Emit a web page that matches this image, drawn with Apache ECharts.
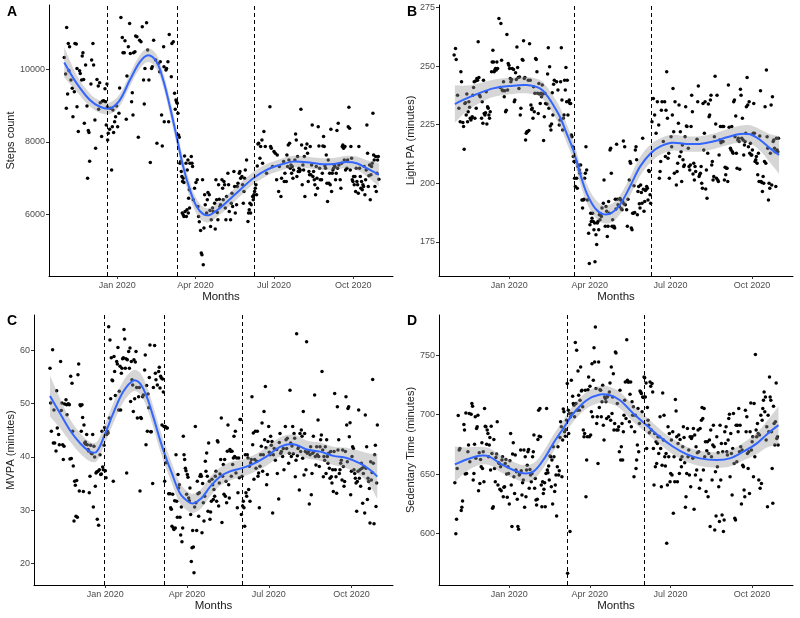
<!DOCTYPE html>
<html><head><meta charset="utf-8">
<script src="https://cdn.jsdelivr.net/npm/echarts@6/dist/echarts.min.js"></script>
<style>html,body{margin:0;padding:0;background:#fff}#c{width:800px;height:618px}</style>
</head><body><div id="c"></div>
<script>
// x values are days relative to 2020-01-01
const monthTicks=[0,91,182,274];
const monthLabels=['Jan 2020','Apr 2020','Jul 2020','Oct 2020'];
const xMin=-79.2, xMax=320.2;

const stepsTicks=[6000,8000,10000];
const lightTicks=[175,200,225,250,275];
const mvpaTicks=[20,30,40,50,60];
const sedTicks=[600,650,700,750];

const stepsBreaks=[-12,70,159];
const lightBreaks=[73,160];
const mvpaBreaks=[-1,66,152];
const sedBreaks=[66,152];

// [day, fitted value, half-width of confidence band]
const stepsFit=[[-61.5,10193,420],[-47,9614,230],[-31.7,9153,180],[-20,8968,165],[-8.5,8924,160],[3,9153,165],[14.7,9705,170],[26.4,10210,185],[36,10394,190],[45.7,10210,195],[53.4,9705,200],[61.2,8968,215],[69,8140,225],[76.6,7313,225],[84.4,6670,215],[92.2,6210,205],[99.9,6000,200],[107.6,5980,195],[119,6166,185],[130.8,6414,180],[142.5,6670,180],[158,6993,170],[173.5,7222,165],[189,7360,160],[204,7451,160],[220,7435,160],[235,7388,160],[250.8,7388,160],[266,7443,170],[278,7407,185],[289.6,7269,220],[303.8,7085,320]];
const lightFit=[[-61.3,233.8,8],[-48,236.2,5.5],[-33,238.6,4.2],[-18,240.5,3.7],[0.8,241.5,3.5],[19.6,241.9,3.5],[34.7,240.5,3.6],[42.2,237.6,3.7],[49.7,233.4,3.8],[57.2,228.4,4],[64.8,221.3,4],[72.3,214.2,4],[79.8,204.3,4],[87.4,195.8,4],[96.8,189.4,3.9],[106,186.8,3.8],[115.6,187.3,3.9],[125,190.8,4],[136.3,198.6,4],[147.6,207.1,4],[159.7,212.8,3.8],[170,215.6,3.5],[183.4,217.3,3.4],[200,216.8,3.3],[215,216.8,3.3],[230,217.8,3.3],[245.5,219.6,3.4],[260.5,221,3.6],[271.8,220.9,3.9],[283,218.5,4.6],[294,215,6],[304.5,212.1,8]];
const mvpaFit=[[-61.4,51.4,3.8],[-50.3,48.2,2.8],[-39.2,45,2.1],[-28,42.6,1.9],[-17,41,1.8],[-9.5,41,1.8],[0,44.4,1.8],[9,48.2,1.9],[20,52.2,2],[31.3,54.3,2],[38.7,53.8,2],[46.2,51.3,2],[53.5,47.5,2],[61,43.2,2],[66.5,40.4,2],[74,37,1.9],[83.2,33.2,1.9],[92.5,31.6,1.8],[98,31.3,1.8],[107.3,32.3,1.8],[116.6,34.4,1.8],[127.7,36.3,1.7],[138.8,37.3,1.7],[152.2,37.9,1.6],[164.8,38.7,1.6],[179.7,40.1,1.7],[194.5,41.9,1.8],[209.3,42.4,1.8],[224.2,41.4,1.7],[239,41,1.7],[253.8,40.2,1.7],[268.7,39.8,1.9],[283.5,38.8,2.3],[294.6,37.6,3],[302.7,36.3,4.2]];
const sedFit=[[-61.3,658.1,15],[-48,662.3,10],[-33,665.4,7.5],[-21.8,664.5,7],[-10.5,659,7],[4.5,653.4,7],[15.8,650.6,7],[27.1,652,7],[38.4,661.8,7],[49.7,675.8,7],[61,688.4,7],[72.3,701,7],[87.4,712.2,7],[102.4,717,7],[113.7,716.4,7],[125,712.2,7],[140,701,7],[155,691.2,6.8],[170,681.3,6.5],[185,673,6.5],[200,666.8,6.5],[215.3,663.2,6.5],[234,661.8,6.5],[249,663.2,6.8],[264,668.8,7.5],[279.4,675.8,9],[290.6,683.4,11],[303.8,691.2,16]];

const stepsPts=[[-61.5,10331],[-59.9,9871],[-58.7,11159],[-59.1,8924],[-57.6,9320],[-56.8,10717],[-56.0,9963],[-55.3,10625],[-53.7,9706],[-52.2,9476],[-51.4,8694],[-49.8,9384],[-49.1,10717],[-47.5,10699],[-46.7,10028],[-46.7,8970],[-45.2,8281],[-43.7,9963],[-42.9,9890],[-41.3,9706],[-40.6,10368],[-39.8,10460],[-39.0,9724],[-38.2,8510],[-36.7,10120],[-35.1,8989],[-34.4,6993],[-33.6,8308],[-32.8,8253],[-32.0,7462],[-30.5,9595],[-29.7,10257],[-28.2,10717],[-27.4,10120],[-25.9,8602],[-25.1,7821],[-23.5,9724],[-22.0,9540],[-21.6,8897],[-20.4,9632],[-19.7,9080],[-18.1,8143],[-17.3,9117],[-15.8,9136],[-14.2,9467],[-13.5,9108],[-12.7,8464],[-11.9,9595],[-11.5,8970],[-11.1,8051],[-10.4,8235],[-8.8,8345],[-8.0,8924],[-6.5,7223],[-5.7,8418],[-5.0,8878],[-4.2,8253],[-3.0,8556],[-1.9,8694],[-0.7,8989],[0.5,8418],[2.0,8786],[2.8,9485],[4.3,11434],[5.9,10883],[6.7,10460],[8.2,10460],[9.0,10791],[10.5,8621],[11.3,9816],[12.9,10625],[14.4,11269],[15.2,10441],[16.7,9108],[17.5,9356],[18.3,8740],[19.0,10460],[20.6,10487],[21.4,10920],[22.9,10901],[24.5,8124],[26.0,10809],[27.6,10763],[29.1,11177],[30.6,9706],[31.4,9044],[32.2,10028],[34.1,11287],[35.3,10533],[36.8,9706],[38.4,7425],[39.9,10028],[40.7,10074],[42.3,10809],[44.6,10257],[46.1,7959],[47.7,10166],[49.2,9936],[50.0,10211],[51.5,8740],[52.3,7885],[53.9,10625],[54.3,10074],[54.6,8556],
[56.6,9982],[57.3,10028],[58.9,10211],[60.4,10965],[59.7,8556],[62.8,9798],[63.5,10717],[65.1,10763],[66.6,9338],[67.4,8897],[68.2,9154],[68.9,9108],[69.7,9062],[70.5,8786],[71.3,8189],[72.0,8124],[72.8,7407],[73.6,7453],[74.4,7177],[75.1,7039],[75.9,6901],[76.7,6993],[77.5,6874],[78.2,7609],[79.8,7407],[81.3,7223],[82.1,7499],[82.9,6441],[83.7,6671],[84.4,7407],[86.0,7591],[86.8,7407],[87.5,7315],[88.3,6396],[89.8,6717],[91.4,6874],[92.9,6947],[93.7,6212],[94.5,5936],[95.3,5789],[96.8,5550],[97.6,4924],[98.4,4878],[99.9,4602],[99.1,6947],[100.7,5614],[101.5,6533],[102.2,6258],[103.8,6028],[104.6,6396],[105.3,6598],[106.9,6533],[107.7,6101],[108.4,5660],[109.2,5844],[110.7,6166],[111.5,6074],[113.1,6304],[113.8,5586],[114.6,6947],[115.4,6396],[116.2,6046],[116.9,5844],[117.7,6809],[118.5,6414],[119.3,6212],[120.0,6258],[121.6,6947],[122.4,6717],[123.1,6396],[123.9,6901],[124.7,6809],[125.5,6166],[126.2,5844],[127.0,6488],[128.5,7131],[129.3,6809],[130.1,6074],[131.6,5844],[132.4,6304],[133.2,6579],[134.0,6212],[135.5,7177],[136.3,6763],[137.1,6028],[138.6,6258],[139.4,6763],[140.2,6855],[141.7,7131],[142.5,7177],[143.3,6993],[144.8,7039],[145.6,6809],[146.4,6304],[147.1,6625],[147.9,6993],[148.7,7223],[150.2,7499],[151.8,5798],[152.5,6028],[153.3,6120],[154.1,6304],[154.9,6028],[155.6,6258],[157.2,6488],[158.0,6396],[158.7,6533],[159.5,6625],[160.3,6717],[161.1,6809],[161.8,6533],[162.6,7333],[163.4,7940],[164.2,7959],[165.7,7545],[166.5,7867],[168.0,8051],[168.8,7407],[170.3,8281],[171.9,7867],[173.4,7131],[177.3,8970],[178.1,7867],[178.9,7821],[180.4,7315],[182.0,7729],[183.5,7683],[185.1,6947],[185.8,7637],[187.4,6625],[188.2,7315],
[75.5,6028],[76.6,5982],[77.5,5936],[78.8,6074],[80.3,5936],[81.0,6120],[82.5,6028],[84.0,6166],
[190.1,6488],[190.8,6993],[193.2,7453],[193.9,6901],[194.7,7131],[196.3,6901],[197.0,7637],[197.8,7315],[198.6,7913],[199.4,7499],[200.1,7959],[200.9,7269],[201.7,7361],[202.5,7131],[203.2,7315],[204.0,6993],[204.8,7223],[206.3,7499],[207.1,8216],[207.9,8051],[208.6,7039],[209.4,7591],[210.2,7177],[211.0,7269],[211.7,7177],[212.5,7223],[213.3,8897],[214.1,7913],[214.8,6809],[215.6,7361],[216.4,7223],[217.2,7591],[217.9,6488],[218.7,7821],[220.3,7940],[221.0,7683],[221.8,6901],[222.6,7177],[223.3,7085],[224.1,7867],[224.9,7085],[225.7,7361],[226.4,8464],[227.2,7039],[228.0,7177],[228.8,6947],[229.5,6809],[230.3,6533],[231.1,7315],[231.9,6993],[232.6,6717],[233.4,8418],[234.2,7885],[235.0,7269],[235.7,6947],[237.3,6947],[238.1,7131],[238.8,7885],[239.6,8143],[240.4,7867],[241.2,7333],[241.9,7269],[242.7,7637],[243.5,6855],[244.2,6350],[245.0,7499],[245.8,6855],[246.6,7131],[247.3,6809],[248.1,8345],[248.9,6625],[249.7,7131],[250.4,7223],[251.2,7269],[252.0,7361],[252.8,7315],[253.5,6947],[254.3,7131],[255.1,8308],[255.9,7269],[256.6,8510],[257.4,7361],[258.9,6947],[259.7,6717],[260.5,7407],[261.3,7867],[262.0,7913],[262.8,7821],[263.6,7499],[264.4,7867],[265.1,7223],[266.7,7269],[267.5,7499],[268.2,8418],[269.0,8952],[269.8,8372],[270.6,7223],[271.3,7867],[272.1,7545],[272.9,6947],[273.7,6901],[274.4,7039],[275.2,6809],[276.0,7039],[276.8,6625],[277.5,7269],[278.3,6901],[279.1,6809],[279.9,6579],[280.6,7867],[281.4,7269],[282.2,7039],[282.9,6717],[283.7,6901],[284.5,6671],[285.3,6809],[286.0,6763],[286.8,7315],[287.6,6533],[288.4,6947],[289.1,7223],[289.9,8464],[290.7,7683],[291.5,6763],[292.2,7058],[293.0,7361],[293.8,6396],[294.6,7085],[295.3,7315],[296.1,7407],[296.9,8786],[297.7,7637],[298.4,7499],[299.2,6763],[300.0,7591],[300.8,6625],[301.5,7131],[302.3,7499],[303.1,7591],[303.8,6966]];

const lightPts=[[-62.1,254.7],[-60.6,257.5],[-59.8,252.8],[-58.3,237.6],[-56.8,232.0],[-55.3,226.3],[-54.5,247.6],[-53.8,243.3],[-52.3,225.9],[-51.5,224.2],[-50.8,214.5],[-50.0,234.1],[-49.3,234.4],[-48.5,229.1],[-47.8,238.1],[-47.0,226.3],[-46.3,230.5],[-45.5,234.8],[-44.7,232.4],[-44.0,227.7],[-43.2,227.0],[-42.5,227.7],[-41.7,228.4],[-41.0,237.6],[-40.2,240.9],[-39.5,243.3],[-38.7,227.7],[-38.0,243.7],[-37.2,232.0],[-36.5,244.7],[-35.7,244.0],[-35.0,260.4],[-34.2,245.2],[-33.5,237.6],[-32.7,236.9],[-31.2,227.7],[-30.5,234.8],[-29.7,225.6],[-29.0,244.0],[-28.2,229.8],[-27.4,229.1],[-26.7,230.1],[-25.9,239.1],[-25.2,225.3],[-24.4,232.7],[-23.7,232.0],[-22.9,229.1],[-22.2,227.7],[-21.4,230.5],[-19.9,247.6],[-19.2,251.8],[-18.4,256.8],[-17.7,251.8],[-16.9,247.6],[-16.2,248.3],[-15.4,249.0],[-14.6,248.3],[-13.9,251.8],[-13.1,249.0],[-11.6,270.3],[-10.1,240.9],[-9.4,268.2],[-8.6,252.5],[-7.9,239.8],[-7.1,239.5],[-6.4,243.3],[-5.6,236.9],[-4.9,239.5],[-4.1,230.5],[-3.3,231.2],[-2.6,263.5],[-1.8,239.8],[-1.1,251.1],[-0.3,250.4],[0.4,249.0],[1.2,244.7],[1.9,243.3],[2.7,244.3],[3.4,249.0],[4.9,248.6],[5.7,234.8],[6.4,235.5],[7.2,247.2],[8.0,244.3],[8.7,258.2],[9.5,249.4],[10.2,245.2],[11.0,240.5],[11.7,245.4],[12.5,229.1],[13.2,232.0],[14.7,252.8],[15.5,252.5],[16.2,260.8],[17.0,244.7],[17.7,245.2],[18.5,218.5],[19.2,221.3],[20.0,222.0],[20.7,222.0],[21.5,244.0],[22.2,222.5],[23.0,259.6],[23.7,244.0],[24.5,233.4],[25.3,231.5],[26.0,232.0],[26.8,227.7],[27.5,241.2],[28.3,230.5],[29.0,238.4],[29.8,253.3],[30.5,252.8],[31.3,247.6],[32.0,238.4],[32.8,229.8],[33.5,242.6],[34.3,238.1],[35.0,234.1],[35.8,238.4],[36.5,236.9],[37.3,241.9],[38.1,238.1],[38.8,218.2],[39.6,228.4],[40.3,238.4],[41.1,234.1],[42.6,233.8],[43.3,246.6],[44.1,257.9],[44.8,232.0],[45.6,249.7],[46.3,224.4],[47.1,222.7],[47.8,225.3],[48.6,238.6],[49.3,229.1],[50.1,242.3],[50.9,244.0],
[53.5,243.3],[55.0,239.8],[56.5,224.9],[57.3,227.0],[58.0,243.3],[58.8,257.9],[59.5,235.5],[60.3,222.7],[61.0,227.7],[61.8,229.1],[62.5,244.0],[63.3,239.8],[64.0,249.4],[64.8,234.8],[65.5,244.0],[66.3,229.1],[67.0,234.8],[67.8,235.5],[68.5,234.1],[69.3,234.1],[70.1,220.6],[70.8,219.9],[71.6,215.6],[72.3,211.4],[73.1,209.3],[73.8,202.1],[74.6,198.6],[75.3,209.3],[76.1,202.1],[76.8,197.9],[77.6,207.1],[78.3,207.8],[79.1,205.7],[79.8,204.3],[80.6,207.8],[82.1,192.9],[82.8,189.4],[83.6,192.9],[84.4,193.2],[85.1,202.1],[85.9,204.3],[86.6,215.6],[87.4,205.7],[88.1,192.9],[89.6,178.7],[90.4,165.7],[91.1,182.3],[91.9,187.2],[92.6,183.7],[93.4,185.1],[94.1,187.2],[94.9,183.7],[95.6,180.1],[96.4,183.0],[96.8,166.5],[97.9,178.0],[98.7,173.8],[99.4,183.0],[100.2,183.7],[101.0,180.1],[101.7,186.5],[102.4,184.4],[103.2,186.5],[104.0,185.8],[104.7,189.4],[106.2,191.5],[107.0,201.4],[108.4,181.6],[109.2,190.1],[110.0,188.0],[110.7,177.3],[111.5,181.6],[112.2,192.2],[113.0,187.2],[113.7,214.2],[114.5,214.9],[115.2,204.3],[116.0,181.6],[116.7,184.4],[117.5,181.3],[118.2,181.6],[119.0,180.9],[119.7,193.2],[120.5,189.0],[121.2,216.6],[122.0,193.2],[122.8,190.8],[123.5,190.1],[124.3,190.1],[125.0,193.5],[125.8,192.9],[126.5,189.1],[127.3,188.7],[128.0,192.2],[128.8,218.0],[129.5,191.2],[130.3,215.6],[131.0,190.8],[132.5,188.7],[133.3,181.6],[134.0,193.2],[135.5,201.4],[136.3,209.3],[137.0,208.5],[137.8,180.9],[138.6,180.1],[139.3,187.2],[140.1,187.2],[140.8,198.9],[141.6,187.5],[142.3,214.2],[143.1,215.6],[143.8,210.0],[144.6,186.5],[145.3,196.5],[146.1,198.6],[146.8,191.2],[147.6,189.4],[148.3,199.3],[149.1,196.0],[149.8,191.5],[150.6,219.2],[151.4,197.4],[152.1,188.0],[152.9,192.2],[153.6,196.9],[154.4,197.2],[155.1,198.6],[155.9,197.9],[156.6,192.9],[157.4,205.4],[158.1,205.0],[158.9,195.1],[159.6,191.5],[161.1,226.3],[162.6,236.2],[164.1,229.1],[165.7,221.3],[167.2,234.8],[168.7,224.9],[169.4,202.1],[170.2,205.0],[170.9,209.3],[171.7,231.2],[172.4,234.8],[173.9,217.8],[175.4,234.8],[176.2,211.4],[176.9,231.2],[177.7,247.6],[178.5,227.7],[179.2,210.7],[180.0,212.8],[180.7,202.1],
[182.6,219.9],[183.3,215.6],[184.1,229.1],[184.8,240.5],[185.6,222.0],[186.3,204.3],[187.1,234.8],[188.6,199.3],[189.4,205.0],[190.1,208.5],[190.9,225.6],[191.6,233.4],[192.4,211.4],[193.1,222.0],[193.9,213.5],[194.6,200.7],[195.4,216.3],[196.1,210.0],[196.9,207.1],[197.6,207.8],[198.4,219.9],[199.1,232.7],[199.9,224.4],[200.6,224.2],[202.1,214.9],[202.9,207.1],[203.7,205.7],[204.4,207.8],[205.2,224.2],[205.9,237.6],[206.7,230.5],[207.4,204.0],[208.2,208.5],[208.9,201.4],[209.7,207.1],[210.4,205.0],[211.9,218.8],[212.7,234.8],[213.4,241.5],[214.2,202.9],[214.9,203.6],[215.7,204.3],[216.5,207.1],[217.2,200.0],[218.0,197.9],[218.7,234.1],[219.5,214.2],[220.2,221.3],[221.0,234.8],[221.7,197.5],[222.5,205.7],[223.2,193.6],[224.0,212.8],[224.7,233.8],[225.5,228.4],[226.2,229.1],[227.0,235.5],[227.7,237.6],[228.5,207.8],[229.2,209.3],[230.0,201.4],[230.8,202.9],[231.5,219.9],[232.3,245.7],[233.0,225.3],[233.8,202.1],[234.5,237.6],[235.3,201.4],[236.0,200.7],[236.8,212.1],[237.5,218.5],[238.3,224.2],[239.0,217.3],[239.8,217.8],[240.5,224.2],[241.3,217.8],[242.0,224.2],[242.8,201.4],[243.6,206.8],[244.3,203.6],[245.1,206.4],[245.8,206.4],[246.6,200.7],[247.3,241.9],[248.1,223.9],[249.6,214.9],[250.3,214.2],[251.1,224.2],[251.8,213.5],[252.6,212.8],[253.3,234.8],[254.1,235.5],[254.8,219.9],[255.6,228.7],[256.3,212.8],[257.1,206.4],[257.9,218.5],[258.6,219.2],[259.4,217.8],[260.1,206.0],[260.9,240.1],[261.6,237.6],[262.4,219.2],[263.1,227.7],[263.9,218.5],[264.6,212.1],[265.4,216.3],[266.1,217.8],[266.9,221.3],[267.6,232.7],[268.4,245.2],[269.1,233.4],[269.9,215.6],[270.7,234.8],[271.4,212.8],[272.2,217.1],[272.9,212.1],[273.7,212.1],[274.4,214.2],[275.2,221.3],[275.9,234.1],[276.7,221.3],[277.4,209.3],[278.2,210.0],[278.9,211.4],[279.7,208.5],[280.4,203.6],[281.2,212.8],[281.9,200.7],[282.7,220.2],[283.5,239.5],[284.2,200.7],[285.0,200.3],[285.7,196.5],[286.5,202.9],[287.2,200.0],[288.0,209.3],[288.7,232.7],[289.5,208.5],[290.2,248.3],[291.0,219.9],[291.7,214.9],[292.5,192.9],[293.2,200.0],[294.0,197.9],[294.7,212.8],[295.5,233.4],[296.2,199.3],[297.0,236.9],[297.8,217.8],[298.5,218.5],[299.3,214.9],[300.0,213.5],[300.8,198.6],[301.5,219.2],[302.3,214.2],[303.0,213.5],[303.8,219.2]];

const mvpaPts=[[-61.4,56.6],[-60.7,50.1],[-59.9,44.8],[-58.5,60.1],[-57.7,42.6],[-57.0,48.8],[-56.2,42.6],[-54.7,41.1],[-54.0,52.4],[-53.3,45.4],[-51.8,44.2],[-51.0,42.3],[-49.6,57.9],[-48.8,48.7],[-48.1,50.1],[-47.3,42.3],[-46.6,39.5],[-45.8,42.0],[-45.1,49.9],[-43.6,50.7],[-42.9,49.8],[-42.5,47.9],[-41.4,49.9],[-40.6,49.9],[-39.9,49.8],[-39.2,39.6],[-38.4,55.1],[-37.7,39.7],[-36.9,53.8],[-36.2,44.8],[-35.5,38.3],[-34.7,28.0],[-34.0,35.45],[-33.2,34.7],[-32.5,28.9],[-31.7,35.6],[-31.0,28.7],[-30.3,55.4],[-29.5,57.4],[-28.8,33.6],[-28.0,49.8],[-27.3,49.6],[-26.6,44.8],[-25.8,49.8],[-25.1,47.4],[-24.3,33.5],[-23.6,46.0],[-22.8,42.6],[-22.1,42.8],[-21.4,42.4],[-20.6,44.2],[-19.9,42.3],[-19.1,41.4],[-18.4,41.1],[-17.7,33.3],[-16.9,36.4],[-16.2,42.2],[-15.4,40.7],[-14.7,40.6],[-13.9,44.2],[-13.2,30.6],[-12.5,42.0],[-11.7,40.0],[-11.0,34.5],[-10.2,37.0],[-9.5,37.2],[-8.8,28.3],[-8.0,37.3],[-7.3,27.2],[-6.5,37.6],[-5.8,40.4],[-5.0,36.7],[-4.3,36.8],[-3.6,44.8],[-2.8,38.1],[-2.1,37.6],[-1.3,42.2],[-0.6,45.5],[0.2,37.4],[0.9,36.1],[1.6,44.2],[2.4,44.8],[3.1,44.5],[3.9,64.4],[4.6,47.3],[5.3,61.9],[6.1,50.9],[6.8,58.6],[7.6,54.4],[8.3,54.3],[9.0,35.45],[9.8,58.8],[10.5,56.0],[11.3,51.5],[12.8,57.9],[13.5,57.4],[14.2,60.5],[15.0,48.8],[15.7,52.3],[16.5,57.0],[17.2,48.8],[18.0,55.7],[18.7,56.6],[19.4,58.4],[20.2,58.6],[20.9,63.9],[21.7,62.1],[22.4,56.6],[23.1,58.4],[23.9,37.0],[24.6,58.2],[26.1,59.75],[26.9,56.6],[27.6,60.4],[28.3,50.4],[29.1,57.9],[29.8,54.45],[30.6,53.5],[31.3,48.5],[32.0,58.2],[32.8,50.9],[33.5,57.8],[34.3,59.75],[35.0,53.0],[35.8,47.3],[37.2,51.3],[38.0,53.0],[38.7,33.6],[39.5,47.4],[40.2,47.2],[41.7,51.3],[42.4,51.6],[43.9,56.3],[44.6,59.1],[45.4,42.3],[46.1,53.4],[46.9,44.8],[47.6,51.8],[48.4,49.2],[49.1,54.9],[49.8,61.0],[50.6,44.7],[51.3,44.7],[52.8,35.0],[53.6,53.0],
[55.0,60.9],[55.8,55.7],[56.5,54.45],[58.0,53.5],[59.5,56.0],[60.2,56.8],[61.0,52.9],[61.7,55.1],[62.4,54.8],[63.2,46.0],[63.9,54.6],[64.7,52.15],[65.4,45.7],[66.2,35.45],[66.9,45.7],[67.6,38.9],[68.4,45.4],[69.1,45.4],[70.6,33.1],[72.1,33.1],[72.8,30.5],[73.6,30.2],[74.3,27.0],[75.1,33.0],[75.8,26.7],[76.5,26.4],[77.3,31.8],[78.0,26.7],[78.8,40.4],[79.5,31.7],[80.3,28.7],[81.0,36.7],[81.7,34.2],[82.5,34.8],[83.2,28.7],[84.0,25.35],[84.7,30.6],[85.4,24.1],[86.2,26.7],[86.9,43.9],[87.7,40.4],[88.4,39.5],[89.2,37.9],[89.9,37.4],[90.6,33.0],[91.4,36.7],[92.1,36.2],[92.9,32.3],[93.6,31.8],[94.3,34.2],[95.1,29.2],[95.8,20.4],[96.6,23.0],[97.3,26.2],[98.1,23.1],[98.8,18.3],[99.5,30.6],[100.3,45.7],[101.0,31.4],[101.8,26.2],[102.5,35.45],[103.2,33.1],[104.0,28.9],[104.7,33.3],[105.5,36.4],[106.2,36.7],[107.0,36.4],[107.7,25.8],[108.4,35.0],[109.2,31.4],[109.9,28.0],[110.7,32.65],[111.4,39.2],[112.1,37.3],[112.9,40.75],[113.6,36.4],[114.4,29.8],[115.1,42.6],[115.9,35.45],[116.6,28.3],[117.3,29.7],[118.1,31.7],[118.8,35.8],[119.6,34.8],[120.3,32.0],[121.0,33.9],[121.8,32.65],[122.5,36.4],[123.3,37.3],[124.0,31.7],[124.8,43.05],[125.5,42.8],[126.2,30.8],[127.0,35.1],[127.7,36.8],[128.5,39.5],[129.2,47.3],[129.9,27.7],[130.7,36.4],[131.4,38.6],[132.2,33.0],[132.9,39.5],[133.7,32.65],[134.4,35.45],[135.1,31.4],[135.9,41.05],[136.6,46.0],[137.4,34.8],[138.1,32.3],[138.8,41.4],[139.6,41.05],[140.3,36.4],[141.1,41.05],[141.8,38.6],[142.6,39.8],[143.3,43.9],[144.0,40.1],[144.8,44.8],[145.5,37.0],[146.3,39.8],[147.0,30.5],[147.7,33.3],[148.5,39.8],[149.2,36.1],[150.0,47.0],[150.7,47.0],[151.5,29.2],[152.2,36.4],[152.9,30.8],[153.7,31.7],[154.4,30.5],[155.2,27.0],[155.9,40.4],[156.6,33.3],[157.4,32.65],[158.1,40.4],[158.9,39.8],[159.6,33.9],[160.4,38.25],[161.1,31.7],[161.8,38.9],[162.6,39.5],[163.3,51.3],[164.1,42.3],[164.8,44.5],[165.5,35.8],[166.3,39.5],[167.0,44.8],[167.8,37.9],[168.5,39.2],[169.3,44.8],[170.0,36.4],[170.7,37.0],[171.5,30.5],[172.2,38.25],[173.0,40.4],[173.7,42.0],[174.5,46.35],[175.2,37.3],[175.9,40.4],[176.7,48.5],[177.4,43.2],[178.2,53.2],[178.9,41.7],[179.6,34.8],[180.4,36.7],[181.1,42.9],[181.9,45.7],[182.6,40.9],[183.4,40.4],[184.1,43.9],[184.8,42.2],[185.6,42.9],[186.3,29.5],[187.1,40.4],[188.0,41.6],[189.3,39.4],
[190.8,41.4],[191.5,36.9],[193.0,32.1],[193.7,42.7],[194.5,44.4],[195.2,40.7],[196.0,41.0],[197.4,40.1],[198.2,41.6],[198.9,37.6],[200.4,45.7],[201.2,43.2],[201.9,41.6],[202.6,43.5],[204.1,38.8],[204.9,40.7],[205.6,52.5],[206.4,42.6],[207.1,40.1],[207.8,42.06],[208.6,45.7],[209.3,40.6],[210.1,44.4],[210.8,43.5],[211.5,36.3],[212.3,39.4],[213.0,63.1],[213.8,40.2],[214.5,41.6],[215.3,41.9],[216.0,33.8],[216.7,44.4],[217.5,41.0],[218.2,45.05],[219.0,43.9],[219.7,39.75],[220.4,48.5],[221.2,36.6],[221.9,44.4],[222.7,41.0],[223.4,37.6],[224.1,61.6],[224.9,40.7],[226.4,41.0],[227.1,31.2],[227.9,40.4],[228.6,41.9],[229.3,32.9],[230.1,36.9],[230.8,40.7],[231.6,43.9],[232.3,41.0],[233.0,51.6],[233.8,40.1],[234.5,38.5],[235.3,41.9],[236.0,40.4],[236.8,46.9],[237.5,40.1],[238.2,38.2],[239.0,41.9],[239.7,43.2],[240.5,44.1],[241.2,56.0],[242.0,41.3],[242.7,36.3],[243.4,40.1],[244.2,39.4],[244.9,41.9],[245.7,36.9],[246.4,43.2],[247.2,40.1],[247.9,38.8],[248.6,40.7],[249.4,37.9],[250.1,36.0],[250.9,41.0],[251.6,36.3],[252.3,35.1],[253.1,37.6],[253.8,33.5],[254.6,41.0],[255.3,51.9],[256.0,37.6],[256.8,36.3],[257.5,33.2],[258.3,49.4],[259.0,41.3],[259.8,43.2],[260.5,36.9],[261.2,37.6],[262.0,38.8],[262.7,39.4],[263.5,35.7],[264.2,41.3],[265.0,38.2],[265.7,34.5],[266.4,35.4],[267.2,41.0],[267.9,51.3],[268.7,46.0],[269.4,39.1],[270.1,49.1],[270.9,49.4],[271.6,43.8],[272.4,46.4],[273.1,32.9],[273.9,37.3],[274.6,40.1],[275.3,41.9],[276.1,41.6],[276.8,37.6],[277.6,36.9],[278.3,36.0],[279.1,35.1],[279.8,29.8],[280.5,35.4],[281.3,37.3],[282.0,48.8],[282.8,36.0],[283.5,37.6],[284.2,34.5],[285.0,38.8],[285.7,37.9],[286.5,31.3],[287.2,36.9],[288.0,38.2],[288.7,29.5],[289.4,47.85],[290.2,37.9],[290.9,41.9],[291.7,32.0],[292.4,36.0],[293.1,35.4],[293.9,34.1],[294.6,27.6],[295.4,39.1],[296.1,35.7],[296.9,37.1],[297.6,54.5],[298.3,38.8],[299.1,27.5],[299.8,40.4],[300.6,42.2],[301.3,30.7],[302.0,35.1],[302.8,46.0]];

const sedPts=[[-61.3,642.7],[-60.2,599.6],[-59.4,611.9],[-58.7,654.7],[-57.5,699.3],[-56.4,670.2],[-55.6,671.6],[-54.1,619.2],[-53.4,622.0],[-52.6,627.3],[-51.1,691.7],[-50.4,687.0],[-49.6,650.0],[-48.9,701.5],[-48.1,650.5],[-46.6,668.8],[-45.9,674.4],[-45.1,701.0],[-44.4,660.4],[-42.9,700.4],[-42.1,709.4],[-41.3,707.1],[-40.6,644.9],[-39.8,650.5],[-39.1,675.2],[-38.3,698.2],[-37.6,663.2],[-36.8,688.4],[-36.1,689.8],[-35.3,699.6],[-34.6,636.0],[-33.8,667.9],[-33.1,642.1],[-32.3,662.3],[-31.6,656.2],[-30.8,676.3],[-30.1,654.7],[-29.3,668.8],[-28.5,643.5],[-27.8,705.2],[-27.0,690.3],[-26.3,689.8],[-25.5,675.2],[-24.8,687.0],[-24.0,684.2],[-23.3,664.6],[-22.5,674.4],[-21.8,680.8],[-21.0,653.3],[-20.3,690.3],[-19.5,667.4],[-18.8,621.1],[-18.0,622.5],[-17.3,679.1],[-16.5,654.7],[-15.7,643.5],[-15.0,664.0],[-14.2,666.8],[-13.5,694.0],[-12.7,640.7],[-12.0,659.5],[-11.2,658.9],[-10.5,637.1],[-9.7,656.2],[-9.0,636.0],[-8.2,661.8],[-7.5,664.6],[-6.7,630.9],[-6.0,638.8],[-5.2,639.3],[-4.5,658.9],[-3.7,662.3],[-2.9,650.0],[-2.2,630.4],[-1.4,656.2],[-0.7,650.5],[0.1,624.8],[0.8,661.2],[1.6,684.2],[2.3,640.7],[3.1,605.7],[3.8,666.8],[4.6,676.3],[5.3,647.7],[6.1,633.7],[6.8,666.0],[7.6,653.3],[8.3,651.9],[9.1,628.7],[9.8,605.7],[10.6,603.5],[11.4,649.2],[12.1,650.5],[12.9,670.2],[13.6,652.8],[14.4,632.3],[15.1,642.7],[15.9,644.9],[16.6,670.2],[17.4,622.0],[18.1,664.6],[18.9,630.9],[19.6,653.3],[20.4,657.5],[21.1,668.8],[21.9,670.7],[22.6,638.0],[23.4,653.9],[24.1,649.2],[24.9,643.5],[25.7,650.5],[26.4,664.6],[27.2,668.8],[27.9,682.8],[28.7,638.0],[29.4,646.3],[30.2,628.1],[30.9,623.9],[31.7,628.7],[32.4,679.1],[33.2,703.8],[33.9,681.9],[34.7,705.2],[35.4,681.4],[36.2,640.7],[36.9,622.5],[37.7,643.5],[38.5,633.7],[39.2,637.1],[40.0,642.7],[40.7,622.5],[41.5,650.5],[42.2,705.2],[43.0,653.3],[43.7,651.1],[44.5,656.7],[45.2,644.9],[46.0,665.1],[46.7,664.6],[47.5,639.3],[48.2,661.8],[49.0,624.8],[49.7,673.0],[50.5,664.6],[51.3,635.2],[52.0,640.7],[52.8,649.2],[53.5,614.7],[54.3,656.2],[55.0,673.0],[55.8,649.2],[56.5,652.8],[57.3,680.8],[58.0,694.0],[58.8,689.8],[59.5,647.7],[60.3,678.6],[61.0,704.9],[61.8,702.4],[62.5,685.6],[63.3,681.9],[64.0,687.5],[64.8,695.4],[65.5,726.2],[65.9,566.5],[66.7,703.8],[67.1,684.2],[67.8,701.0],[68.6,601.5],[69.3,698.2],[70.1,729.0],[70.8,701.0],[71.6,715.5],[72.3,709.4],[73.1,708.0],[73.8,698.2],[74.6,760.9],[75.3,709.4],[76.1,754.2],[76.8,703.8],[77.6,736.8],[78.4,716.4],[79.1,703.8],[79.9,712.2],[80.6,740.2],[81.4,720.0],[82.1,720.6],[82.9,706.6],[83.6,687.0],[84.4,681.4],[85.1,684.2],[85.9,720.6],[86.6,630.9],[87.4,661.8],[88.1,681.4],[88.9,721.1],[89.6,731.8],[90.4,681.4],[91.1,723.9],[91.9,682.8],[92.7,702.4],[93.4,743.0],[94.2,698.2],[94.9,729.0],[95.7,756.4],[96.4,744.4],[97.2,773.8],[97.9,722.0],[98.7,692.6],[99.4,698.2],[100.2,658.9],[100.9,744.4],[101.7,706.0],[102.4,721.1],[103.2,720.6],[103.9,698.2],[104.7,710.8],[105.5,724.8],[106.2,691.2],[107.0,678.6],[107.7,715.0],[108.5,713.6],[109.2,710.8],[110.0,696.8],[110.7,715.0],[111.5,716.4],[112.2,698.2],[113.0,719.2],[113.7,726.7],[114.5,695.4],[115.2,740.2],[116.0,701.0],[116.7,715.0],[117.5,734.6],[118.2,687.0],[119.0,692.6],[119.8,752.8],[120.5,751.9],[121.3,687.0],[122.0,709.4],[122.8,687.0],[123.5,689.8],[124.3,668.8],[125.0,720.6],[125.8,661.8],[126.5,673.0],[127.3,692.6],[128.0,661.8],[128.8,685.6],[129.5,699.6],[130.3,712.2],[131.0,727.6],[131.8,696.8],[132.6,763.1],[133.3,729.0],[134.1,727.6],[134.8,727.6],[135.6,694.0],[136.3,717.2],[137.1,727.6],[137.8,689.8],[138.6,710.8],[139.3,699.6],[140.1,706.6],[140.8,647.7],[141.6,685.6],[142.3,699.6],[143.1,654.7],[143.8,661.8],[144.6,674.4],[145.3,705.2],[146.1,668.8],[146.9,692.6],[147.6,720.0],[148.4,719.2],[149.1,717.8],[149.9,702.4],[150.6,715.0],[151.4,714.4],[152.1,731.8],[152.9,731.2],[153.6,715.0],[154.4,726.7],[155.1,671.6],[155.9,706.0],[156.6,695.4],[157.4,691.2],[158.1,684.7],[158.9,727.6],[159.7,723.9],[160.4,687.0],[161.2,726.2],[161.9,719.2],[162.7,671.6],[163.4,640.7],[164.2,684.2],[164.9,656.2],[165.7,677.2],[166.4,658.9],[167.2,675.8],[167.9,681.4],[168.7,667.4],[169.4,681.4],[170.2,698.2],[170.9,671.6],[171.7,639.3],[172.5,657.5],[173.2,718.3],[174.0,678.6],[174.7,699.6],[175.5,664.6],[176.2,656.7],[177.0,667.4],[177.7,591.7],[178.5,640.7],[179.2,689.8],[180.0,664.6],[180.7,684.2],[181.5,643.5],[182.2,650.5],[183.0,678.6],[183.7,649.2],[184.5,685.6],[185.2,616.9],[186.0,664.6],[186.8,643.5],[187.5,712.7],[188.3,703.2],[189.0,681.4],[189.8,643.5],[190.5,675.8],[191.3,682.8],[192.0,650.5],[192.8,679.1],[193.5,662.3],[194.3,656.2],[195.0,664.6],[195.8,673.0],[196.5,689.8],[197.3,680.8],[198.0,659.5],[198.8,622.0],[199.5,630.9],[200.3,650.5],[201.1,688.4],[201.8,664.6],[202.6,670.2],[203.3,649.2],[204.1,681.4],[204.8,639.3],[205.6,680.0],[206.3,681.4],[207.1,663.2],[207.8,688.4],[208.6,620.3],[209.3,682.8],[210.1,649.2],[210.8,673.0],[211.6,653.3],[212.3,667.9],[213.1,687.0],[213.9,668.8],[214.6,638.0],[215.4,688.4],[216.1,644.9],[216.9,695.4],[217.6,706.0],[218.4,696.8],[219.1,653.3],[219.9,705.2],[220.6,664.6],[221.4,677.2],[222.1,635.2],[222.9,669.6],[223.6,677.2],[224.4,630.9],[225.1,667.4],[225.9,678.6],[226.7,605.7],[227.4,687.0],[228.2,664.6],[228.9,644.9],[229.7,674.4],[230.4,691.2],[231.2,673.0],[231.9,602.9],[232.7,651.9],[233.4,614.7],[234.2,681.4],[234.9,656.2],[235.7,667.9],[236.4,639.3],[237.2,609.9],[237.9,691.2],[238.7,644.9],[239.4,675.8],[240.2,615.5],[240.9,668.8],[241.7,601.5],[242.5,611.3],[243.2,685.6],[244.0,675.8],[244.7,689.8],[245.5,668.8],[246.2,666.0],[247.0,678.6],[247.7,696.8],[248.5,700.4],[249.2,647.7],[250.0,684.2],[250.7,667.4],[251.5,632.3],[252.2,671.6],[253.0,701.0],[253.8,658.9],[254.5,612.7],[255.3,611.3],[256.0,691.2],[256.8,660.4],[257.5,691.2],[258.3,685.6],[259.0,705.2],[259.8,668.8],[260.5,691.2],[261.3,673.0],[262.0,624.8],[262.8,670.2],[263.5,657.5],[264.3,656.2],[265.0,636.5],[265.8,630.9],[266.5,703.8],[267.3,685.6],[268.1,698.2],[268.8,667.4],[269.6,654.7],[270.3,668.8],[271.1,633.7],[271.8,685.6],[272.6,709.9],[273.3,670.2],[274.1,677.2],[274.8,681.4],[275.6,647.7],[276.3,709.4],[277.1,664.6],[277.8,750.8],[278.6,687.0],[279.3,681.4],[280.1,692.6],[280.9,684.2],[281.6,644.9],[282.4,682.8],[283.1,638.0],[283.9,699.6],[284.6,642.1],[285.4,695.4],[286.1,705.2],[286.9,712.2],[287.6,719.2],[288.4,702.4],[289.1,715.0],[289.9,678.6],[290.6,689.8],[291.4,622.5],[292.1,699.6],[292.9,685.6],[293.7,731.8],[294.4,715.0],[295.2,712.2],[295.9,685.6],[296.7,654.7],[297.4,625.3],[298.2,707.1],[298.9,692.6],[299.7,674.4],[300.4,694.0],[301.2,726.7],[301.9,680.0],[302.7,681.4],[303.4,674.4]];

const FONT='"Liberation Sans", Arial, Helvetica, sans-serif';
const panels=[
 {letter:'A',title:'Steps count',pts:stepsPts,fit:stepsFit,brk:stepsBreaks,ticks:stepsTicks,yMin:4290,yMax:11780,
  grid:{left:49,top:5,width:344,height:271},nameGap:28,lx:7,ly:5},
 {letter:'B',title:'Light PA (minutes)',pts:lightPts,fit:lightFit,brk:lightBreaks,ticks:lightTicks,yMin:160.4,yMax:276.1,
  grid:{left:439,top:5,width:354,height:271},nameGap:21,lx:407,ly:5},
 {letter:'C',title:'MVPA (minutes)',pts:mvpaPts,fit:mvpaFit,brk:mvpaBreaks,ticks:mvpaTicks,yMin:16.0,yMax:66.6,
  grid:{left:34,top:315,width:359,height:270},nameGap:16,lx:7,ly:314},
 {letter:'D',title:'Sedentary Time (minutes)',pts:sedPts,fit:sedFit,brk:sedBreaks,ticks:sedTicks,yMin:556.5,yMax:784,
  grid:{left:439,top:315,width:354,height:270},nameGap:21,lx:407,ly:314}
];

function smoothRender(fit){
  return function(params, api){
    if(params.dataIndex!==0) return;
    const up=fit.map(r=>api.coord([r[0],r[1]+r[2]]));
    const lo=fit.map(r=>api.coord([r[0],r[1]-r[2]])).reverse();
    const ring=[up[0]].concat(up,[up[up.length-1]],[lo[0]],lo,[lo[lo.length-1]]);
    const mid=fit.map(r=>api.coord([r[0],r[1]]));
    return {type:'group',children:[
      {type:'polygon',shape:{points:ring,smooth:0.35},style:{fill:'rgba(153,153,153,0.4)',stroke:null}},
      {type:'polyline',shape:{points:mid,smooth:0.35},style:{fill:null,stroke:'#3366FF',lineWidth:2}}
    ]};
  };
}

const labelMap={};
monthTicks.forEach((t,i)=>labelMap[t]=monthLabels[i]);

const option={animation:false,backgroundColor:'#fff',
  grid:panels.map(p=>Object.assign({containLabel:false},p.grid)),
  xAxis:panels.map((p,i)=>({type:'value',gridIndex:i,min:xMin,max:xMax,
    name:'Months',nameLocation:'middle',nameGap:15,
    nameTextStyle:{fontFamily:FONT,fontSize:11.5,color:'#1a1a1a'},
    axisLine:{show:true,onZero:false,lineStyle:{color:'#000',width:1}},
    axisTick:{show:true,length:3,customValues:monthTicks,lineStyle:{color:'#333',width:1}},
    axisLabel:{customValues:monthTicks,formatter:v=>labelMap[v]||'',fontFamily:FONT,fontSize:9,color:'#4d4d4d',margin:5},
    splitLine:{show:false}})),
  yAxis:panels.map((p,i)=>({type:'value',gridIndex:i,min:p.yMin,max:p.yMax,
    name:p.title,nameLocation:'middle',nameGap:p.nameGap,
    nameTextStyle:{fontFamily:FONT,fontSize:11,color:'#1a1a1a'},
    axisLine:{show:true,onZero:false,lineStyle:{color:'#000',width:1}},
    axisTick:{show:true,length:3,customValues:p.ticks,lineStyle:{color:'#333',width:1}},
    axisLabel:{customValues:p.ticks,formatter:v=>String(v),fontFamily:FONT,fontSize:9,color:'#4d4d4d',margin:4},
    splitLine:{show:false}})),
  graphic:panels.map(p=>({type:'text',left:p.lx,top:p.ly,style:{text:p.letter,font:'bold 14px '+FONT,fill:'#000'}})),
  series:[]
};
panels.forEach((p,i)=>{
  option.series.push({type:'scatter',xAxisIndex:i,yAxisIndex:i,data:p.pts,symbolSize:3.5,
    itemStyle:{color:'#000',opacity:1},silent:true,z:2,
    markLine:{silent:true,symbol:'none',label:{show:false},animation:false,
      lineStyle:{color:'#000',type:[4,3],width:1},data:p.brk.map(b=>({xAxis:b}))}});
  option.series.push({type:'custom',xAxisIndex:i,yAxisIndex:i,z:3,silent:true,
    data:[[p.fit[0][0],p.fit[0][1]]],renderItem:smoothRender(p.fit)});
});
const chart=echarts.init(document.getElementById('c'),null,{renderer:'canvas'});
chart.setOption(option);
</script></body></html>
